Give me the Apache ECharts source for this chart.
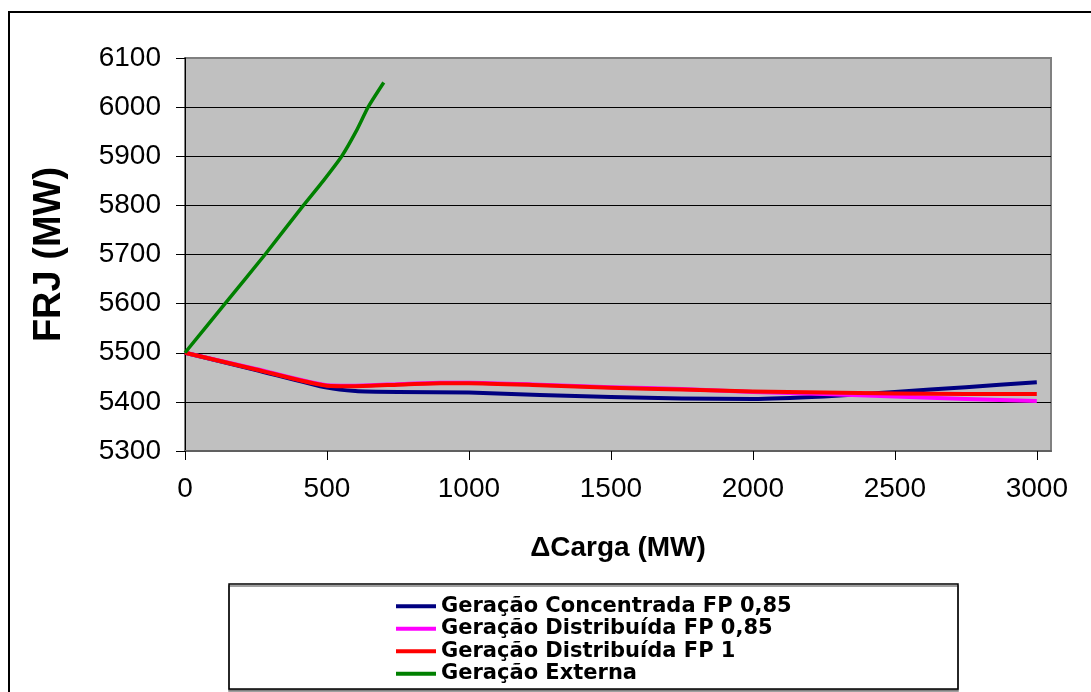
<!DOCTYPE html>
<html>
<head>
<meta charset="utf-8">
<script src="https://cdn.jsdelivr.net/npm/echarts@6/dist/echarts.min.js"></script>
<style>
  html, body { margin: 0; padding: 0; background: #fff; }
  #chart { width: 1091px; height: 692px; }
</style>
</head>
<body>
<div id="chart"></div>
<script>
// ΔCarga (MW) sample points and FRJ (MW) per scenario
const xConc = [0, 250, 500, 600, 750, 1000, 1250, 1500, 1750, 2000, 2250, 2500, 2750, 3000];
const frjConcentrada085 = [5500, 5465, 5429, 5422, 5420, 5419, 5414, 5410, 5407, 5406, 5411, 5420, 5430, 5440];

const xDist = [0, 250, 500, 600, 750, 900, 1000, 1250, 1500, 1750, 2000, 2250, 2500, 2750, 3000];
const frjDistribuida085 = [5500, 5467, 5434, 5433, 5436, 5439, 5439, 5435, 5430, 5426, 5420, 5416, 5411, 5406, 5402];
const frjDistribuida1 = [5500, 5466, 5433, 5432, 5435, 5438, 5438, 5434, 5429, 5425, 5421, 5419, 5417, 5416, 5416];

const xExt = [0, 141, 282, 417, 487, 552, 602, 645, 700];
const frjExterna = [5500, 5600, 5700, 5800, 5850, 5900, 5950, 6000, 6050];

const xTicks = [0, 500, 1000, 1500, 2000, 2500, 3000];
const seriesNames = [
  'Geração Concentrada FP 0,85',
  'Geração Distribuída FP 0,85',
  'Geração Distribuída FP 1',
  'Geração Externa'
];

const pair = (xs, ys) => xs.map((x, i) => [x, ys[i]]);

const chart = echarts.init(document.getElementById('chart'));
const font = 'Liberation Sans, Arial, sans-serif';
const plain = v => String(v);

function lineSeries(name, data, color, width) {
  return {
    name, type: 'line', data, smooth: 0.2,
    showSymbol: false, symbol: 'none',
    lineStyle: { color, width, join: 'round', cap: 'butt' }, itemStyle: { color }, z: 3
  };
}

chart.setOption({
  animation: false,
  grid: {
    left: 185, top: 58, right: 40, bottom: 241,
    show: true, backgroundColor: '#C0C0C0', borderColor: '#808080', borderWidth: 2
  },
  xAxis: {
    type: 'value', min: 0, max: 3050,
    name: 'ΔCarga (MW)', nameLocation: 'middle', nameGap: 83,
    nameTextStyle: { fontFamily: font, fontSize: 28, fontWeight: 'bold', color: '#000' },
    axisLine: { lineStyle: { color: '#606060', width: 2 } },
    axisTick: { customValues: xTicks, length: 9, lineStyle: { color: '#000' } },
    axisLabel: { customValues: xTicks, formatter: plain, margin: 24, fontFamily: font, fontSize: 28, color: '#000' },
    splitLine: { show: false }
  },
  yAxis: {
    type: 'value', min: 5300, max: 6100, interval: 100,
    name: 'FRJ (MW)', nameLocation: 'middle', nameGap: 116, nameRotate: 90,
    nameTextStyle: { fontFamily: font, fontSize: 38, fontWeight: 'bold', color: '#000' },
    axisLine: { show: true, lineStyle: { color: '#000', width: 1 } },
    axisTick: { show: true, length: 9, lineStyle: { color: '#000' } },
    axisLabel: { formatter: plain, margin: 24, fontFamily: font, fontSize: 28, color: '#000' },
    splitLine: { show: true, showMinLine: false, showMaxLine: false, lineStyle: { color: '#000', width: 1 } }
  },
  legend: {
    orient: 'vertical', left: 391, top: 590, itemGap: 0, height: 300,
    icon: 'rect', itemWidth: 40, itemHeight: 4,
    data: seriesNames,
    textStyle: { fontFamily: 'DejaVu Sans, sans-serif', fontSize: 21, fontWeight: 'bold', color: '#000', lineHeight: 22.5, padding: [0, 0, 0, 0] }
  },
  graphic: [
    {
      type: 'rect', silent: true, z: -1,
      shape: { x: 9, y: 12, width: 1100, height: 700 },
      style: { fill: 'none', stroke: '#000', lineWidth: 2 }
    },
    {
      type: 'rect', silent: true, z: -1,
      shape: { x: 229, y: 584, width: 729, height: 105 },
      style: { fill: '#fff', stroke: '#000', lineWidth: 1.5,
               shadowColor: '#808080', shadowOffsetX: 0, shadowOffsetY: 2, shadowBlur: 0 }
    }
  ],
  series: [
    lineSeries(seriesNames[0], pair(xConc, frjConcentrada085), '#000080', 4),
    lineSeries(seriesNames[1], pair(xDist, frjDistribuida085), '#FF00FF', 4),
    lineSeries(seriesNames[2], pair(xDist, frjDistribuida1), '#FF0000', 4),
    lineSeries(seriesNames[3], pair(xExt, frjExterna), '#008000', 3.5)
  ]
});
</script>
</body>
</html>
